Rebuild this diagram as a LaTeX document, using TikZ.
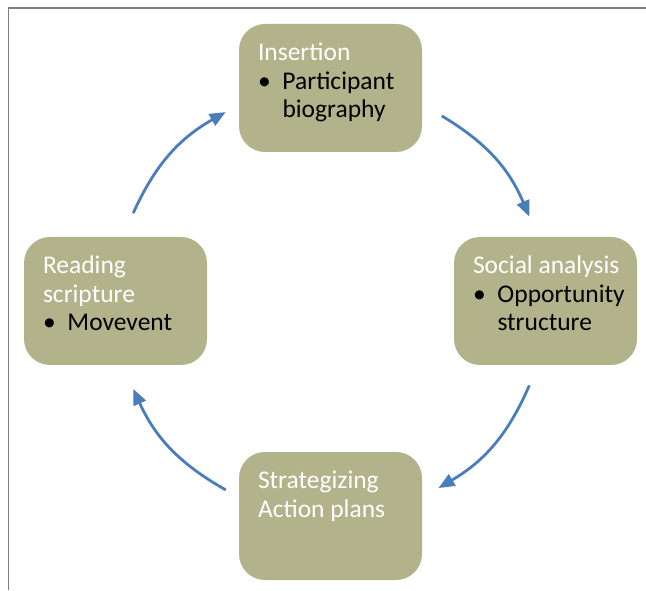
\documentclass[tikz,border=0pt]{standalone}
\usepackage{fontspec}
\usepackage{xcolor}
\setmainfont{Carlito}
\usetikzlibrary{arrows.meta}
\definecolor{boxolive}{HTML}{B2B38A}
\definecolor{cycblue}{HTML}{4A7EBB}
\definecolor{framegray}{HTML}{7F7F7F}
\newcommand{\bitem}{\par\hangindent=24.5pt\hangafter=1\noindent\makebox[24.5pt][l]{\textbullet}}
\newcommand{\boxtext}[1]{\parbox[t][90pt][t]{145pt}{\raggedright #1}}
\hfuzz=20pt

\begin{document}
\begin{tikzpicture}
    [x=1pt,y=1pt,
    stage/.style={rectangle,rounded corners=26pt,fill=boxolive,inner sep=19pt,
        font=\fontsize{25.5}{28.5}\selectfont},
    cyc/.style={cycblue,line width=2.8pt,-{Triangle[length=16pt,width=13pt]}}]
    \useasboundingbox (0,0) rectangle (646,590);
    %frame
    \draw[framegray,line width=1.5pt](8.5,0)--(8.5,582)--(646,582);
    %stages
    \node[stage] (ins) at (330.5,502)
    {\boxtext{\textcolor{white}{Insertion}\bitem Participant\newline biography}};
    \node[stage] (soc) at (545.5,289)
    {\boxtext{\textcolor{white}{\mbox{Social analysis}}\bitem Opportunity\newline structure}};
    \node[stage] (str) at (330.5,74)
    {\boxtext{\textcolor{white}{Strategizing\newline Action plans}}};
    \node[stage] (rea) at (115.5,289)
    {\boxtext{\textcolor{white}{Reading\newline scripture}\bitem Movevent}};
    %cycle
    \coordinate (c) at (330.5,289);
    \coordinate (ins-out) at ([shift={(59:216)}]c);
    \coordinate (soc-in) at ([shift={(23:216)}]c);
    \coordinate (soc-out) at ([shift={(-23:216)}]c);
    \coordinate (str-in) at ([shift={(-60:216)}]c);
    \coordinate (str-out) at ([shift={(-119:216)}]c);
    \coordinate (rea-in) at ([shift={(-156:216)}]c);
    \coordinate (rea-out) at ([shift={(156:216)}]c);
    \coordinate (ins-in) at ([shift={(119:216)}]c);
    \draw[cyc] (ins-out) to[bend left=18] (soc-in);
    \draw[cyc] (soc-out) to[bend left=18] (str-in);
    \draw[cyc] (str-out) to[bend left=18] (rea-in);
    \draw[cyc] (rea-out) to[bend left=18] (ins-in);
\end{tikzpicture}
\end{document}
